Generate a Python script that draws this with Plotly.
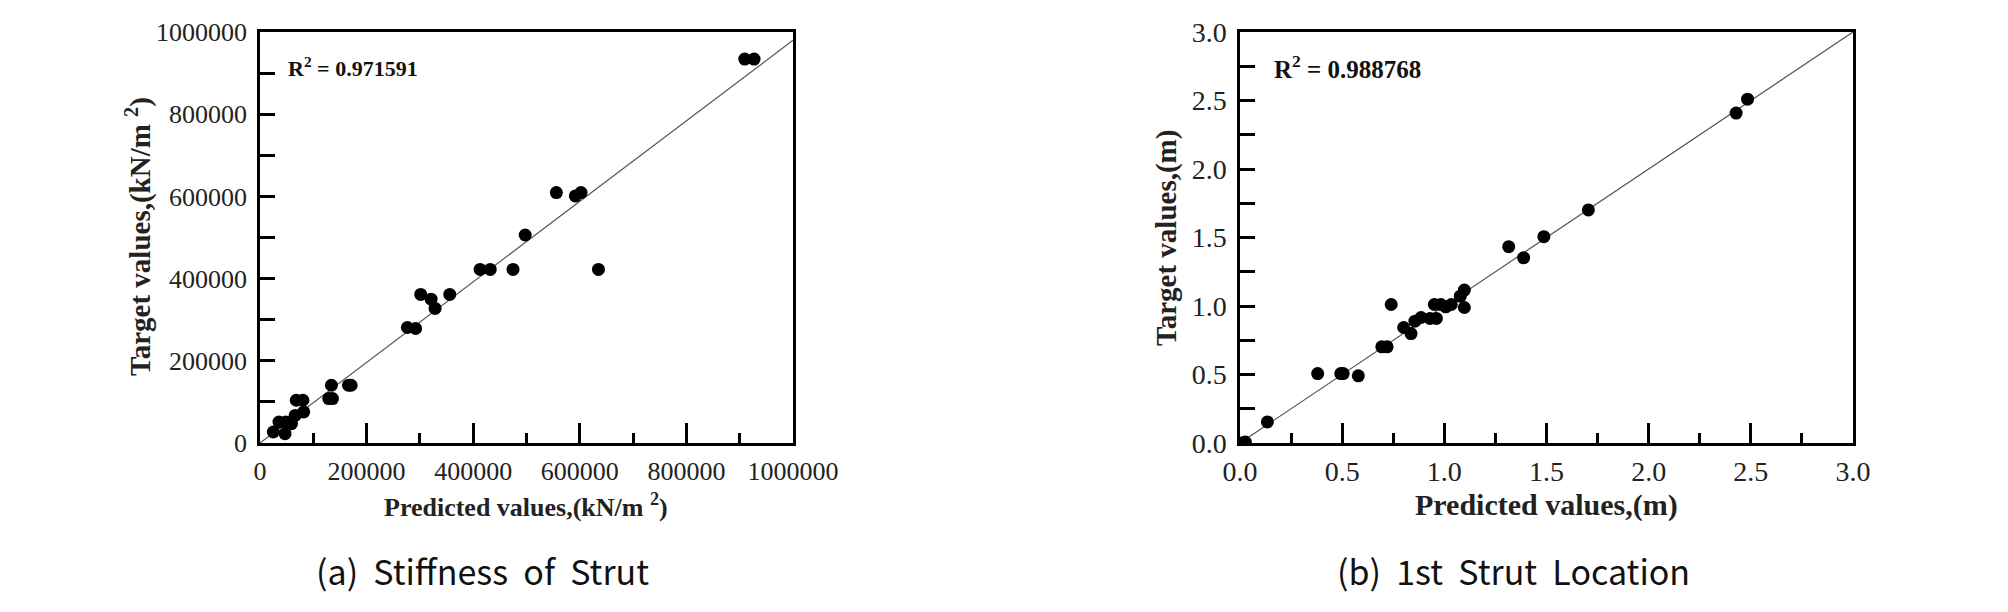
import plotly.graph_objects as go

# ---- data: (a) Stiffness of Strut ----
stiff_pred = [25000, 35600, 47000, 48500, 59000, 66000, 68000, 80500, 82000,
              129000, 136000, 134000, 166000, 171000, 276500, 292000, 301500,
              321000, 328500, 356000, 413000, 432000, 474700, 497500, 556000,
              591600, 602300, 635000, 909500, 927000]
stiff_target = [26800, 51000, 22700, 51000, 47000, 67000, 104000, 104000, 75500,
                108000, 108000, 140500, 140500, 140500, 281000, 278600, 361500,
                350000, 327400, 361500, 422400, 422400, 422400, 506100, 609300,
                601100, 609300, 422400, 934200, 934200]
stiff_fit_x = [0, 1000000]
stiff_fit_y = [0, 980000]
stiff_r2 = "0.971591"

# ---- data: (b) 1st Strut Location ----
loc_pred = [0.01, 0.026, 0.134, 0.380, 0.493, 0.505, 0.579, 0.694, 0.720, 0.740,
            0.801, 0.837, 0.856, 0.886, 0.930, 0.961, 0.951, 0.983, 1.007, 1.034,
            1.078, 1.098, 1.098, 1.315, 1.388, 1.487, 1.705, 2.428, 2.484]
loc_target = [0.0, 0.007, 0.154, 0.507, 0.507, 0.507, 0.490, 0.702, 0.702, 1.011,
              0.843, 0.799, 0.889, 0.916, 0.909, 0.909, 1.011, 1.011, 0.994, 1.011,
              1.072, 1.116, 0.989, 1.433, 1.352, 1.506, 1.701, 2.408, 2.510]
loc_fit_x = [0, 3.0]
loc_fit_y = [0, 3.0]
loc_r2 = "0.988768"

W, H = 2008, 612
SERIF = "Liberation Serif"

def px(x):
    return x / W

def py(y):
    return 1 - y / H

fig = go.Figure()

marker = dict(color="black", size=13, line=dict(width=0))
fig.add_trace(go.Scatter(x=stiff_fit_x, y=stiff_fit_y, mode="lines",
                         line=dict(color="#555555", width=1.2), xaxis="x", yaxis="y",
                         showlegend=False, hoverinfo="skip"))
fig.add_trace(go.Scatter(x=stiff_pred, y=stiff_target, mode="markers", marker=marker,
                         xaxis="x", yaxis="y", showlegend=False))
fig.add_trace(go.Scatter(x=loc_fit_x, y=loc_fit_y, mode="lines",
                         line=dict(color="#555555", width=1.2), xaxis="x2", yaxis="y2",
                         showlegend=False, hoverinfo="skip"))
fig.add_trace(go.Scatter(x=loc_pred, y=loc_target, mode="markers", marker=marker,
                         xaxis="x2", yaxis="y2", showlegend=False))

tick_a = dict(family=SERIF, size=26, color="#222222")
tick_b = dict(family=SERIF, size=28, color="#222222")
common = dict(showline=True, linecolor="black", linewidth=2.5, mirror=True,
              ticks="inside", tickwidth=2.5, tickcolor="black", showgrid=False,
              zeroline=False, automargin=False)

def minor(d, ln):
    return dict(dtick=d, ticklen=ln, tickwidth=2.5, tickcolor="black", ticks="inside")

ydom = [py(443), py(32)]
fig.update_layout(
    width=W, height=H, margin=dict(l=0, r=0, t=0, b=0, autoexpand=False),
    paper_bgcolor="white", plot_bgcolor="white",
    xaxis=dict(domain=[px(260), px(793)], range=[0, 1000000], tick0=0, dtick=200000,
               ticklen=20, tickformat="d", anchor="y", minor=minor(100000, 10),
               tickfont=tick_a, ticklabelstandoff=3, **common),
    yaxis=dict(domain=ydom, range=[0, 1000000], tick0=0, dtick=200000, ticklen=15,
               tickformat="d", anchor="x", minor=minor(100000, 15),
               tickfont=tick_a, ticklabelstandoff=5, **common),
    xaxis2=dict(domain=[px(1240), px(1853)], range=[0, 3.0], tick0=0, dtick=0.5,
                ticklen=20, tickformat=".1f", anchor="y2", minor=minor(0.25, 10),
                tickfont=tick_b, ticklabelstandoff=2, **common),
    yaxis2=dict(domain=ydom, range=[0, 3.0], tick0=0, dtick=0.5, ticklen=15,
                tickformat=".1f", anchor="x2", minor=minor(0.25, 15),
                tickfont=tick_b, ticklabelstandoff=5, **common),
)

xt_a = dict(family=SERIF, size=26, color="#222222")
yt = dict(family=SERIF, size=29, color="#222222")
xt_b = dict(family=SERIF, size=30, color="#222222")
r2_a = dict(family=SERIF, size=22, color="#111111")
r2_b = dict(family=SERIF, size=25, color="#111111")
capfont = dict(family="Noto Sans CJK KR", size=34, color="#111111")
NB = "\u00a0"

annots = [
    dict(x=px(526), y=py(505), text="<b>Predicted values,(kN/m <sup>2</sup>)</b>", font=xt_a),
    dict(x=px(139), y=py(237), text="<b>Target values,(kN/m <sup>2</sup>)</b>", font=yt, textangle=-90),
    dict(x=px(1546), y=py(505), text="<b>Predicted values,(m)</b>", font=xt_b),
    dict(x=px(1167), y=py(238), text="<b>Target values,(m)</b>", font=yt, textangle=-90),
    dict(x=px(286), y=py(67), text="<b>R<sup>2</sup> = " + stiff_r2 + "</b>", font=r2_a, xanchor="left"),
    dict(x=px(1272), y=py(67), text="<b>R<sup>2</sup> = " + loc_r2 + "</b>", font=r2_b, xanchor="left"),
    dict(x=px(482), y=py(570), text="(a)" + NB * 2 + "Stiffness" + NB * 2 + "of" + NB * 2 + "Strut", font=capfont),
    dict(x=px(1513), y=py(570), text="(b)" + NB * 2 + "1st" + NB * 2 + "Strut" + NB * 2 + "Location", font=capfont),
]
for a in annots:
    a.setdefault("xanchor", "center")
    fig.add_annotation(xref="paper", yref="paper", showarrow=False, yanchor="middle", **a)

fig.write_html(
    "out.html",
    config={"responsive": False, "displayModeBar": False},
    post_script="document.body.style.margin='0';document.body.style.overflow='hidden';",
)
